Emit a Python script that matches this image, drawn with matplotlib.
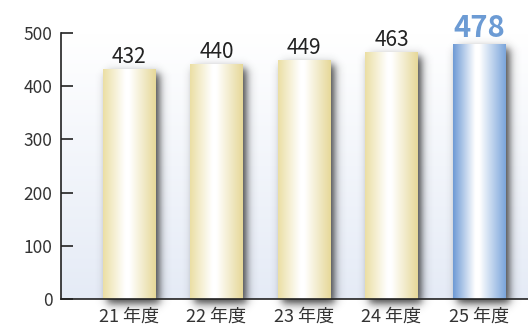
import matplotlib
matplotlib.use("Agg")
import matplotlib.pyplot as plt
import numpy as np
from matplotlib.colors import to_rgb

plt.rcParams['font.family'] = ['Noto Sans CJK JP', 'DejaVu Sans']

years = ['21 年度', '22 年度', '23 年度', '24 年度', '25 年度']
values = [432, 440, 449, 463, 478]
highlight = 4  # latest year drawn in blue

yellow_l = '#ebdfa4'
yellow_r = '#e6d898'
blue_l = '#6e9ad5'
blue_r = '#7ba5db'

W, H = 528, 334
fig = plt.figure(figsize=(W / 100, H / 100), dpi=100)
ax = fig.add_axes([61 / W, 35 / H, (W - 61) / W, 266 / H])

ax.set_xlim(-0.777, 4.56)
ax.set_ylim(0, 500)

# soft vertical background, white at the top to pale blue at the bottom
bg = np.linspace(0, 1, 256)[:, None, None]
top = np.array(to_rgb('#ffffff'))
bot = np.array(to_rgb('#e5ebf6'))
bg_img = top * (1 - bg) + bot * bg
ax.imshow(bg_img, extent=[0, 1, 0, 1], transform=ax.transAxes,
          aspect='auto', zorder=0, interpolation='bilinear')

bw = 0.6
px_x = 87.5 / 1.0      # pixels per x unit
px_y = 266 / 500.0     # pixels per y unit


def soft_box(t, lo, hi, s):
    return 1 / (1 + np.exp(-(t - lo) / s)) * 1 / (1 + np.exp((t - hi) / s))


def bar_gradient(c_left, c_right):
    t = np.linspace(0, 1, 200)
    left = np.array(to_rgb(c_left))
    right = np.array(to_rgb(c_right))
    white = np.ones(3)
    stops = [0.0, 0.42, 0.5, 1.0]
    cols = [left, white, white, right]
    img = np.stack([np.interp(t, stops, [c[k] for c in cols]) for k in range(3)], axis=-1)
    return img[None, :, :]


for i, v in enumerate(values):
    # blurred drop shadow offset right and down
    dx = 4 / px_x
    sx = 2.5 / px_x
    sy = 2.5 / px_y
    pad_x = 12 / px_x
    pad_y = 12 / px_y
    x0 = i - bw / 2 + dx - pad_x
    x1 = i + bw / 2 + dx + pad_x
    y0 = -7 / px_y - pad_y
    y1 = v - 4 / px_y
    xs = np.linspace(x0, x1, 120)
    ys = np.linspace(y0, y1 + pad_y, 300)
    fx = soft_box(xs, i - bw / 2 + dx, i + bw / 2 + dx, sx)
    fy = soft_box(ys, -5 / px_y, y1, sy)
    alpha = 0.85 * fy[:, None] * fx[None, :]
    sh = np.zeros((len(ys), len(xs), 4))
    sh[..., :3] = 0.15
    sh[..., 3] = alpha
    ax.imshow(sh, extent=[x0, x1, y0, y1 + pad_y], origin='lower',
              aspect='auto', zorder=1, clip_on=False, interpolation='bilinear')

    if i == highlight:
        img = bar_gradient(blue_l, blue_r)
    else:
        img = bar_gradient(yellow_l, yellow_r)
    ax.imshow(img, extent=[i - bw / 2, i + bw / 2, 0, v],
              aspect='auto', zorder=2, interpolation='bilinear')

    if i == highlight:
        ax.text(i, v + 4, str(v), ha='center', va='bottom', fontsize=21,
                fontweight='bold', color='#6c9bd4', zorder=5, clip_on=False)
    else:
        ax.text(i, v + 3, str(v), ha='center', va='bottom', fontsize=15,
                color='#222222', zorder=5)

ax.set_xlim(-0.777, 4.56)
ax.set_ylim(0, 500)
ax.set_aspect('auto')

for side in ['top', 'right']:
    ax.spines[side].set_visible(False)
for side in ['left', 'bottom']:
    ax.spines[side].set_linewidth(1.2)
    ax.spines[side].set_color('#222222')
    ax.spines[side].set_zorder(4)

ax.set_yticks(range(0, 501, 100))
ax.set_xticks(range(len(years)))
ax.set_xticklabels(years)
ax.tick_params(axis='y', direction='in', length=8.5, width=1.2,
               color='#222222', labelsize=12.5, labelcolor='#333333', pad=6)
ax.tick_params(axis='x', length=0, labelsize=13, labelcolor='#333333', pad=6.5)

fig.savefig('out.png', dpi=100)
